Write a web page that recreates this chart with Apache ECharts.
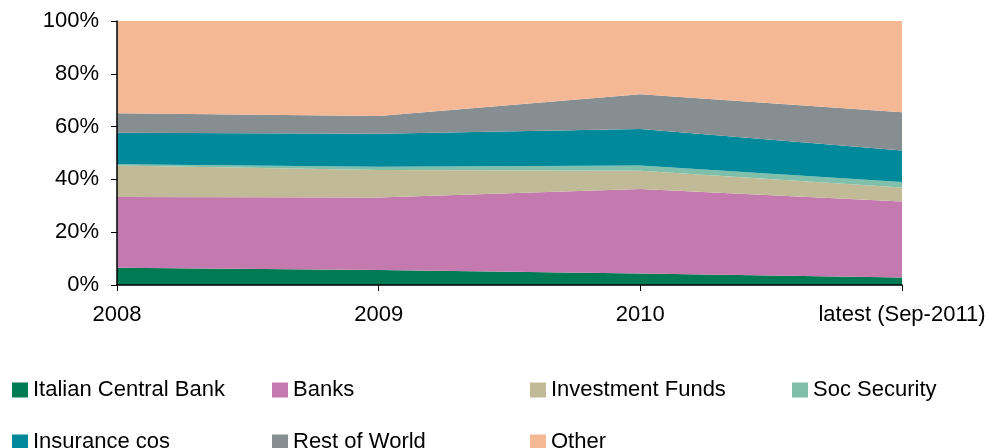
<!DOCTYPE html>
<html>
<head>
<meta charset="utf-8">
<script src="https://cdn.jsdelivr.net/npm/echarts@6/dist/echarts.min.js"></script>
<style>
  html, body { margin: 0; padding: 0; background: #fff; }
  #chart { width: 997px; height: 448px; }
</style>
</head>
<body>
<div id="chart"></div>
<script>
var categories = ['2008', '2009', '2010', 'latest (Sep-2011)'];

// shares of holdings, % of total
var centralBank = [6.5, 5.7, 4.4, 2.8];
var banks = [26.8, 27.4, 32.0, 28.8];
var invFunds = [12.0, 10.5, 6.9, 5.3];
var socSecurity = [0.4, 1.2, 2.0, 2.1];
var insurance = [12.0, 12.5, 13.8, 11.9];
var restOfWorld = [7.4, 6.7, 13.2, 14.5];
var other = [34.9, 36.0, 27.7, 34.6];

var names = ['Italian Central Bank', 'Banks', 'Investment Funds', 'Soc Security',
             'Insurance cos', 'Rest of World', 'Other'];
var colors = ['#007a53', '#c47aae', '#c0bb96', '#80c0aa', '#00889b', '#878e92', '#f5b895'];
var values = [centralBank, banks, invFunds, socSecurity, insurance, restOfWorld, other];

var font = 'Liberation Sans, Arial, sans-serif';

var chart = echarts.init(document.getElementById('chart'));

var series = names.map(function (n, i) {
    return {
        name: n,
        type: 'line',
        stack: 'total',
        data: values[i],
        showSymbol: false,
        symbol: 'none',
        lineStyle: { width: 0 },
        areaStyle: { color: colors[i], opacity: 1 },
        itemStyle: { color: colors[i] },
        z: 2
    };
});

// one legend per item so they sit in fixed columns
var legendPos = [
    [12, 379], [272, 379], [530, 379], [792, 379],
    [12, 431], [272, 431], [530, 431]
];
var legends = names.map(function (n, i) {
    return {
        data: [n],
        left: legendPos[i][0],
        top: legendPos[i][1],
        padding: 0,
        itemWidth: 16,
        itemHeight: 15,
        itemGap: 4,
        icon: 'rect',
        textStyle: { fontFamily: font, fontSize: 22, color: '#000' }
    };
});

var option = {
    animation: false,
    backgroundColor: '#fff',
    legend: legends,
    grid: { left: 117, right: 95, top: 21, bottom: 163 },
    xAxis: {
        type: 'category',
        boundaryGap: false,
        data: categories,
        axisLine: { lineStyle: { color: '#000', width: 1.5 } },
        axisTick: { show: true, length: 6, lineStyle: { color: '#000' } },
        axisLabel: { margin: 19, fontFamily: font, fontSize: 22, color: '#000' },
        z: 5
    },
    yAxis: {
        type: 'value',
        min: 0,
        max: 100,
        interval: 20,
        axisLine: { show: true, lineStyle: { color: '#000', width: 1.5 } },
        axisTick: { show: true, length: 6, lineStyle: { color: '#000' } },
        splitLine: { show: false },
        axisLabel: { formatter: '{value}%', margin: 18, fontFamily: font, fontSize: 22, color: '#000' },
        z: 5
    },
    series: series
};
chart.setOption(option);
</script>
</body>
</html>
